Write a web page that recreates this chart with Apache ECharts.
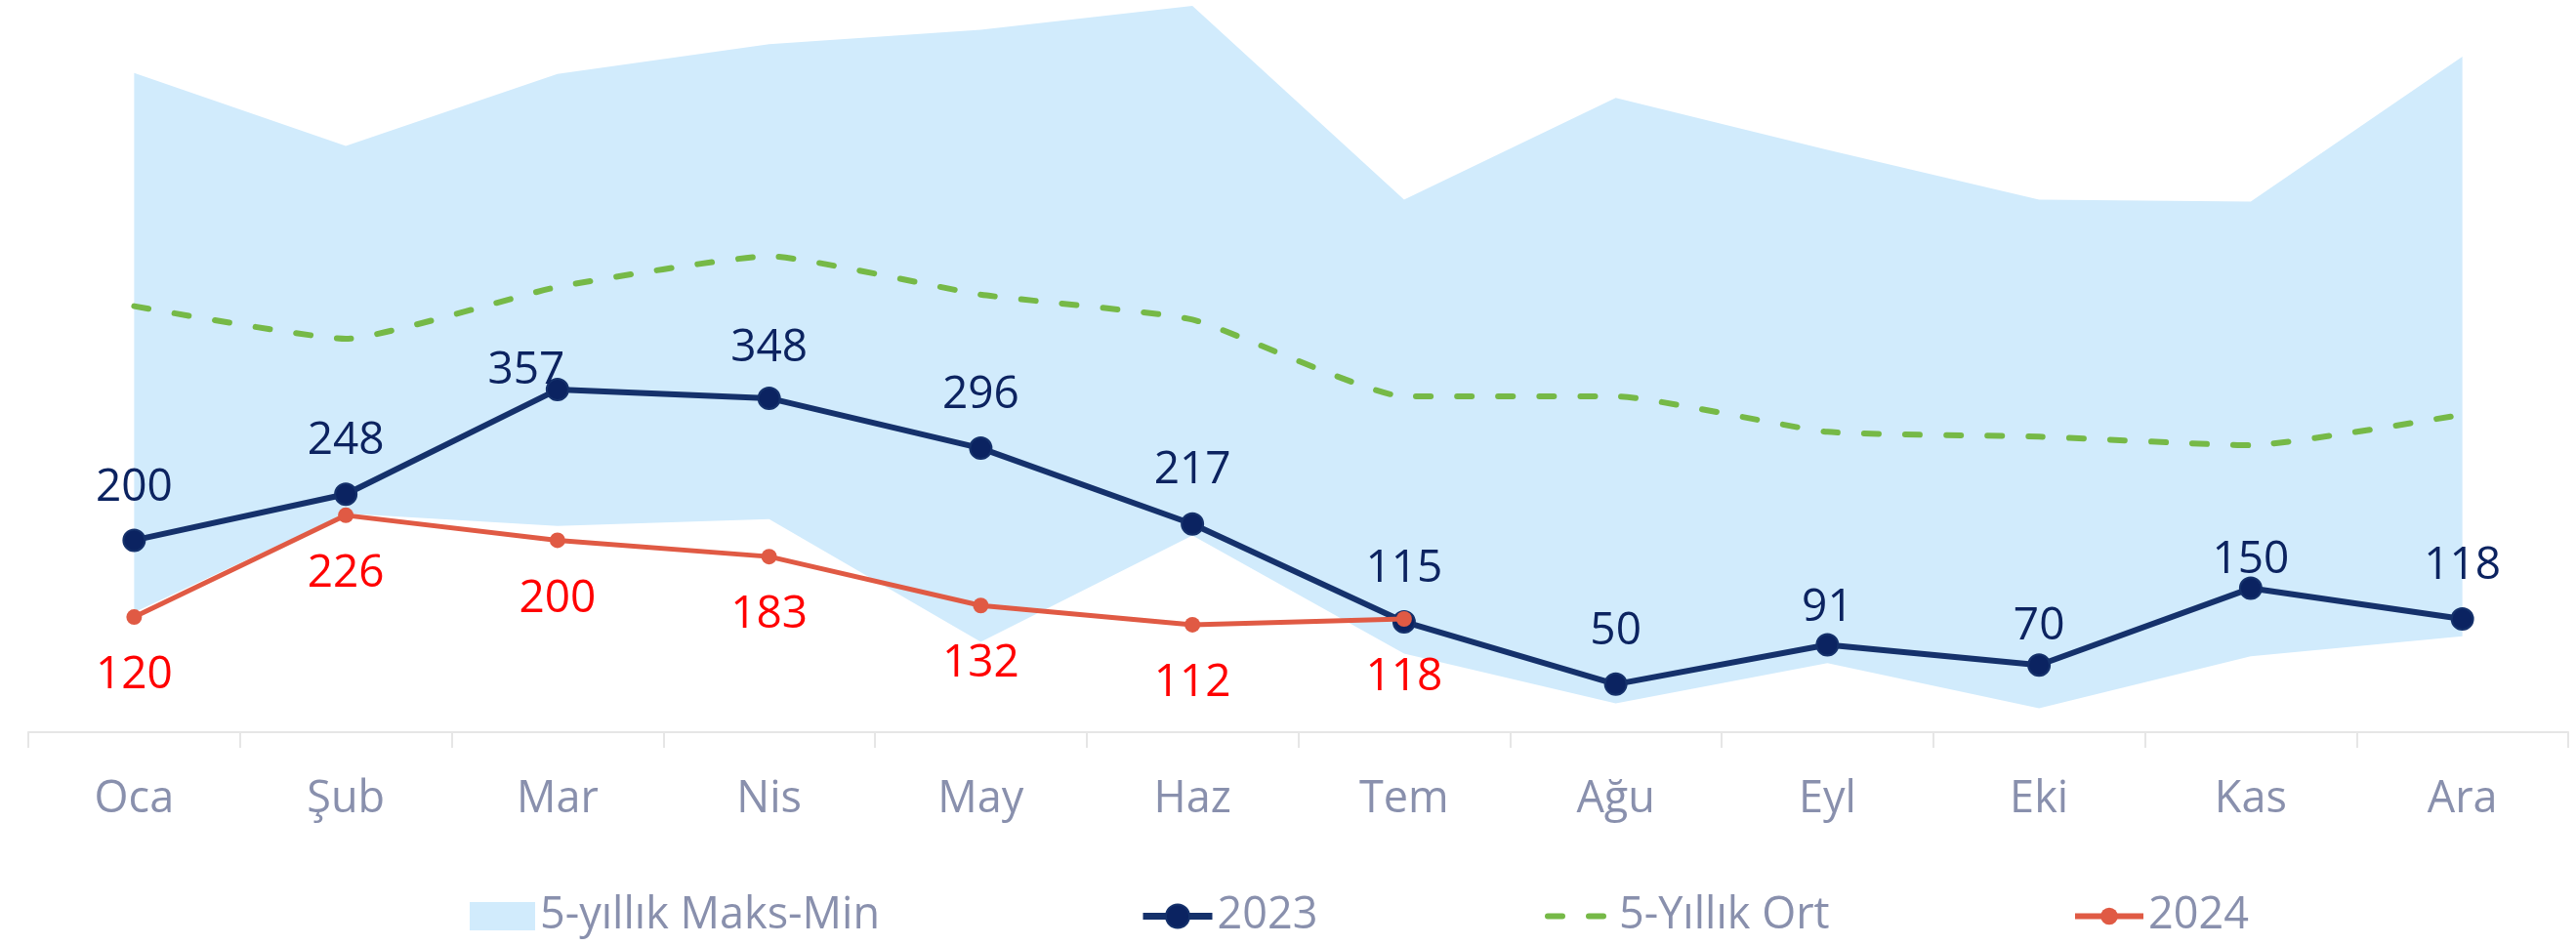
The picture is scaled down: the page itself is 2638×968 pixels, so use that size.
<!DOCTYPE html>
<html>
<head>
<meta charset="utf-8">
<script src="https://cdn.jsdelivr.net/npm/echarts@6/dist/echarts.min.js"></script>
<style>
html,body{margin:0;padding:0;background:#fff;}
#chart{width:2638px;height:968px;}
</style>
</head>
<body>
<div id="chart"></div>
<script>
// ---- Data ----
const categories = ['Oca','Şub','Mar','Nis','May','Haz','Tem','Ağu','Eyl','Eki','Kas','Ara'];
const max5 = [687, 611, 686, 717, 732, 757, 555, 661, 607, 555, 553, 704];
const min5 = [125, 228, 215, 222, 94, 205, 82, 30, 72, 25, 79, 100];
const avg5 = [444, 410, 464, 496, 456, 430, 350, 350, 313, 308, 299, 331];
const y2023 = [200, 248, 357, 348, 296, 217, 115, 50, 91, 70, 150, 118];
const y2024 = [120, 226, 200, 183, 132, 112, 118];

const names = ['5-yıllık Maks-Min', '2023', '5-Yıllık Ort', '2024'];

// ---- Styling config (label placement tweaks, not data) ----
const FONT = "'Open Sans', 'Noto Sans', sans-serif";
const AREA = '#d1ebfc';
const NAVY_LINE = '#15316b';
const NAVY_PT = '#0b2361';
const RED_LINE = '#e05a44';
const GREEN = '#76b947';
const GREY_TXT = '#8990ad';
const labelAdj2023 = [
  {d:19},{d:19},{d:-16,dx:-32},{d:16},{d:19},{d:20},
  {d:19},{d:19},{d:3},{d:4},{d:-6},{d:19}
];

const diff = max5.map((v, i) => v - min5[i]);

const data2023 = y2023.map((v, i) => ({
  value: v,
  label: { distance: labelAdj2023[i].d, offset: [labelAdj2023[i].dx || 0, 0] }
}));

const chart = echarts.init(document.getElementById('chart'), null, {renderer: 'canvas'});

const legendBase = {
  top: 916, padding: 0, selectedMode: false,
  textStyle: { fontFamily: FONT, fontSize: 45, color: GREY_TXT, lineHeight: 44 }
};

chart.setOption({
  animation: false,
  grid: { left: 29, right: 8, top: 3, bottom: 218, containLabel: false },
  legend: [
    Object.assign({}, legendBase, { left: 481, itemWidth: 67, itemHeight: 29,
      data: [{ name: names[0], icon: 'rect' }] }),
    Object.assign({}, legendBase, { left: 1167, itemWidth: 71, itemHeight: 30,
      lineStyle: { width: 7 }, data: [names[1]] }),
    Object.assign({}, legendBase, { left: 1582, itemWidth: 68, itemHeight: 30,
      lineStyle: { width: 6 }, itemStyle: { opacity: 0 }, data: [names[2]] }),
    Object.assign({}, legendBase, { left: 2122, itemWidth: 70, itemHeight: 22,
      lineStyle: { width: 6 }, data: [names[3]] })
  ],
  xAxis: {
    type: 'category',
    data: categories,
    boundaryGap: true,
    axisLine: { lineStyle: { color: '#e6e6e6', width: 2 } },
    axisTick: { show: true, length: 16, lineStyle: { color: '#e6e6e6', width: 2 } },
    axisLabel: { fontFamily: FONT, fontSize: 45, color: GREY_TXT, margin: 47 },
    splitLine: { show: false }
  },
  yAxis: {
    type: 'value', min: 0, max: 760, show: false,
    splitLine: { show: false }
  },
  series: [
    {
      name: 'minBase', type: 'line', stack: 'band', data: min5,
      symbol: 'none', silent: true,
      lineStyle: { width: 0, opacity: 0 }, itemStyle: { color: AREA },
      z: 1
    },
    {
      name: names[0], type: 'line', stack: 'band', data: diff,
      symbol: 'none', silent: true,
      lineStyle: { width: 0, opacity: 0 },
      itemStyle: { color: AREA },
      areaStyle: { color: AREA, opacity: 1 },
      z: 1
    },
    {
      name: names[2], type: 'line', data: avg5,
      symbol: 'none', smooth: 0.15,
      itemStyle: { color: GREEN },
      lineStyle: { color: GREEN, width: 6, type: [15, 27], cap: 'round' },
      z: 2
    },
    {
      name: names[1], type: 'line', data: data2023,
      symbol: 'circle', symbolSize: 22,
      itemStyle: { color: NAVY_PT, borderColor: NAVY_LINE, borderWidth: 2 },
      lineStyle: { color: NAVY_LINE, width: 6 },
      label: { show: true, position: 'top', fontFamily: FONT, fontSize: 46, color: '#0c2360' },
      z: 3
    },
    {
      name: names[3], type: 'line', data: y2024,
      symbol: 'circle', symbolSize: 16,
      itemStyle: { color: RED_LINE },
      lineStyle: { color: RED_LINE, width: 5 },
      label: { show: true, position: 'bottom', distance: 29, fontFamily: FONT, fontSize: 46, color: '#ff0000' },
      z: 4
    }
  ]
});
</script>
</body>
</html>
